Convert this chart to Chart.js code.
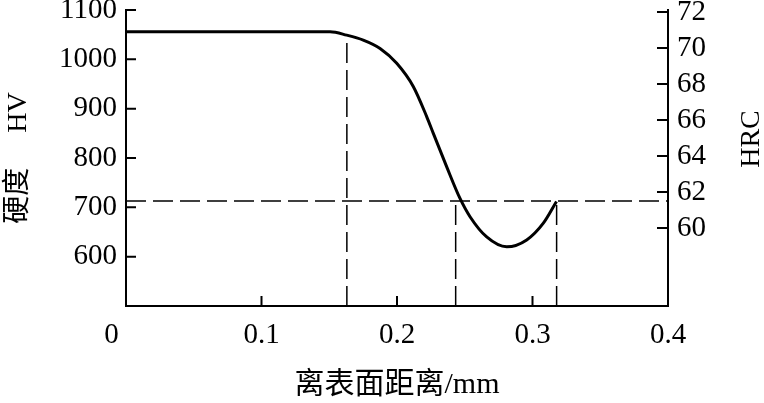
<!DOCTYPE html>
<html>
<head>
<meta charset="utf-8">
<script src="https://cdn.jsdelivr.net/npm/chart.js@4"></script>
<style>
  body { margin: 0; background: #fff; }
</style>
</head>
<body>
<canvas id="hardnessChart" width="764" height="403"></canvas>
<script>
// curve: distance from surface (mm) vs hardness (HV)
const distance   = [0, 0.10, 0.1506, 0.1629, 0.1751, 0.1875, 0.1998, 0.2120, 0.2219, 0.2268, 0.2367, 0.2465, 0.2539, 0.2662, 0.2810, 0.2957, 0.3080, 0.3177];
const hardnessHV = [1056, 1056, 1056, 1049, 1039, 1022, 992, 945, 884, 850, 782, 718, 681, 640, 620, 634, 668, 712];

// dashed reference lines
const levelHV = 713;
const markX   = [0.163, 0.2433, 0.3178];
const markTop = [1049, 713, 713];

// tick labels
const xTicks   = [0, 0.1, 0.2, 0.3, 0.4];
const hvTicks  = [600, 700, 800, 900, 1000, 1100];
const hrcTicks = [60, 62, 64, 66, 68, 70, 72];

const SERIF = '"Liberation Serif", "Noto Sans CJK SC", serif';
const dash = [20, 7];

const datasets = [];
datasets.push({
    data: [{ x: 0, y: levelHV }, { x: 0.4, y: levelHV }],
    borderColor: "#000", borderWidth: 1.5, borderDash: dash, pointRadius: 0
});
markX.forEach((mx, i) => {
    datasets.push({
        data: [{ x: mx, y: 500 }, { x: mx, y: markTop[i] }],
        borderColor: "#000", borderWidth: 1.5, borderDash: dash, pointRadius: 0
    });
});
datasets.push({
    data: distance.map((d, i) => ({ x: d, y: hardnessHV[i] })),
    borderColor: "#000", borderWidth: 3, pointRadius: 0,
    cubicInterpolationMode: "monotone"
});

// ticks point inward, and the HRC title reads bottom to top
const inwardTicks = {
    id: "inwardTicks",
    afterDatasetsDraw(chart) {
        const { ctx, chartArea: a, scales: { x, y, y1 } } = chart;
        ctx.save();
        ctx.strokeStyle = "#000";
        ctx.lineWidth = 2;
        ctx.beginPath();
        xTicks.slice(1, -1).forEach(v => {
            const px = x.getPixelForValue(v);
            ctx.moveTo(px, a.bottom); ctx.lineTo(px, a.bottom - 10);
        });
        hvTicks.forEach(v => {
            const py = y.getPixelForValue(v);
            ctx.moveTo(a.left, py); ctx.lineTo(a.left + 10, py);
        });
        hrcTicks.forEach(v => {
            const py = y1.getPixelForValue(v);
            ctx.moveTo(a.right, py); ctx.lineTo(a.right - 11, py);
        });
        ctx.stroke();

        ctx.translate(chart.width - 12, (a.top + a.bottom) / 2 - 19);
        ctx.rotate(-Math.PI / 2);
        ctx.font = "28px " + SERIF;
        ctx.fillStyle = "#000";
        ctx.textAlign = "center";
        ctx.textBaseline = "middle";
        ctx.fillText("HRC", 0, 0);
        ctx.restore();
    }
};

function fixBox(size, key) {
    return s => {
        s[key] = size;
        s.paddingTop = 0; s.paddingBottom = 0;
        s.paddingLeft = 0; s.paddingRight = 0;
    };
}

new Chart(document.getElementById("hardnessChart"), {
    type: "scatter",
    data: { datasets },
    options: {
        responsive: false,
        animation: false,
        showLine: true,
        layout: { padding: { top: 10, left: 0, right: 0, bottom: 0 } },
        plugins: { legend: { display: false }, tooltip: { enabled: false } },
        scales: {
            x: {
                type: "linear", position: "bottom", min: 0, max: 0.4,
                afterBuildTicks: s => { s.ticks = xTicks.map(v => ({ value: v })); },
                afterFit: fixBox(97, "height"),
                grid: { display: false, drawTicks: false },
                border: { display: true, color: "#000", width: 2 },
                ticks: {
                    color: "#000", padding: 12, maxRotation: 0, autoSkip: false,
                    font: { family: SERIF, size: 29 },
                    callback: v => v === 0 ? "0\u2002\u2002" : String(Number(v.toFixed(1)))
                },
                title: {
                    display: true, text: "离表面距离/mm", color: "#000",
                    font: { family: SERIF, size: 30 }, padding: { top: 0, bottom: 0 }
                }
            },
            y: {
                type: "linear", position: "left", min: 500, max: 1100,
                afterBuildTicks: s => { s.ticks = hvTicks.map(v => ({ value: v })); },
                afterFit: fixBox(126, "width"),
                grid: { display: false, drawTicks: false },
                border: { display: true, color: "#000", width: 2 },
                ticks: {
                    color: "#000", padding: 9, font: { family: SERIF, size: 29 },
                    callback: v => String(v)
                },
                title: {
                    display: true, text: "硬度\u3000 HV", color: "#000",
                    font: { family: SERIF, size: 28 }, padding: { top: 2, bottom: 0 }
                }
            },
            y1: {
                type: "linear", position: "right", min: 55.667, max: 72.111,
                afterBuildTicks: s => { s.ticks = hrcTicks.map(v => ({ value: v })); },
                afterFit: fixBox(96, "width"),
                grid: { display: false, drawTicks: false },
                border: { display: true, color: "#000", width: 2 },
                ticks: {
                    color: "#000", padding: 9, font: { family: SERIF, size: 29 },
                    callback: v => String(v)
                }
            }
        }
    },
    plugins: [inwardTicks]
});
</script>
</body>
</html>
